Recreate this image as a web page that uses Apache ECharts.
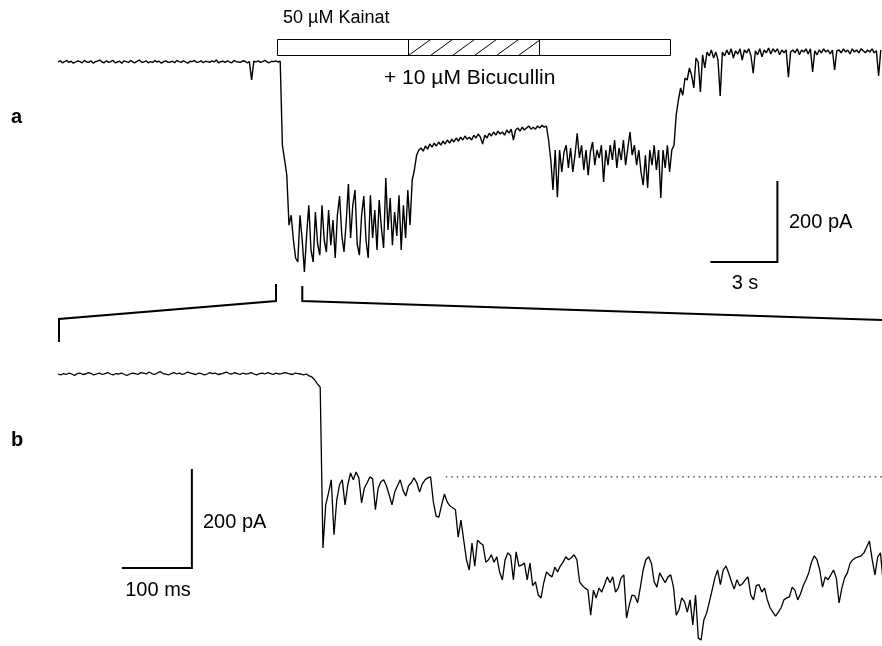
<!DOCTYPE html>
<html>
<head>
<meta charset="utf-8">
<script src="https://cdn.jsdelivr.net/npm/echarts@6/dist/echarts.min.js"></script>
<style>
  html, body { margin: 0; padding: 0; background: #fff; }
  #chart { width: 882px; height: 646px; }
</style>
</head>
<body>
<div id="chart"></div>
<script>
// ---- Panel a: whole-cell current, sampled every 0.1 s (pA) ----
const aDt = 0.1; // s
const aCurrent = [
  0, 3, -2, 1, 4, -1, 2, -3, 0, 3,
  1, -2, 4, 0, -1, 3, -3, 1, 2, 5,
  0, -2, 3, -1, 1, 4, -2, 0, 2, -3,
  3, 1, -1, 4, 0, -2, 2, 5, -1, 0,
  3, -2, 1, -1, 4, 0, 2, -3, 1, 3,
  -1, 0, 2, -2, 4, 1, -1, 3, 0, -3,
  2, 1, 4, -1, 0, 3, -2, 2, 1, -1,
  3, 0, 5, -2, 1, 2, -1, 3, 0, -2,
  4, 1, 0, -1, 3, 2, -2, 1, -45, 2,
  0, 3, -1, 1, 4, 0, -2, 2, 1, 3,
  0, 2, -208, -245, -283, -408, -383, -445, -490, -500,
  -383, -445, -525, -433, -358, -470, -500, -375, -455, -483,
  -358, -445, -475, -370, -458, -395, -490, -383, -335, -433,
  -475, -400, -305, -440, -358, -320, -455, -483, -383, -335,
  -445, -490, -333, -440, -370, -470, -345, -415, -465, -290,
  -420, -340, -458, -375, -435, -333, -470, -358, -440, -320,
  -408, -295, -270, -233, -220, -215, -223, -210, -218, -205,
  -213, -203, -210, -200, -208, -198, -205, -195, -203, -193,
  -200, -190, -198, -188, -195, -185, -193, -188, -195, -183,
  -190, -180, -188, -205, -183, -190, -178, -185, -175, -183,
  -173, -180, -175, -183, -170, -178, -168, -195, -170, -165,
  -173, -163, -170, -165, -160, -168, -163, -168, -160, -165,
  -158, -163, -160, -195, -245, -320, -220, -338, -220, -275,
  -225, -208, -265, -215, -275, -233, -178, -240, -208, -270,
  -220, -283, -225, -200, -258, -220, -240, -208, -300, -220,
  -258, -208, -245, -195, -265, -215, -245, -195, -258, -215,
  -175, -233, -208, -258, -220, -275, -308, -233, -315, -220,
  -258, -208, -270, -220, -340, -220, -265, -208, -275, -220,
  -208, -133, -95, -65, -83, -40, -45, -15, -33, -65,
  10, 0, -75, 18, -15, 25, 15, 30, 10, 25,
  5, -85, 25, 15, 30, 18, 33, 10, 28, 20,
  33, 5, 30, 23, 33, 15, -28, 28, 18, 33,
  13, 30, 23, 35, 20, 33, 25, 33, 18, 30,
  23, 30, -38, 25, 30, 23, 33, 18, 30, 25,
  33, 20, 33, -25, 28, 18, 30, 23, 33, 25,
  30, 20, 30, -20, 28, 30, 23, 33, 25, 30,
  20, 33, 25, 30, 23, 33, 28, 23, 30, 25,
  33, 23, 28, -35, 30
];

// ---- Panel b: onset on an expanded time base, sampled every 4 ms (pA) ----
const bDt = 4; // ms
const bCurrent = [
  0, -2, 1, -1, 2, 0, -3, 1, 2, -1,
  0, 3, 1, -2, 0, 2, -1, 1, 3, 0,
  -2, 1, 0, 2, -1, -3, 0, 2, 1, -1,
  3, 2, 0, 4, 1, -1, 2, 5, 1, 0,
  -2, 1, 3, 0, 2, -1, 1, 4, 2, 0,
  -1, 2, 1, -2, 0, 3, 1, 2, -1, 0,
  2, 4, 1, 0, 3, 1, -1, 2, 0, 1,
  3, 0, -2, 1, 2, 0, 3, 1, -1, 2,
  0, 1, 3, 2, 0, -1, 2, 1, 0, -2,
  0, -4, -6, -12, -20, -27, -355, -267, -243, -216,
  -328, -257, -226, -216, -267, -226, -202, -216, -200, -212,
  -263, -233, -222, -210, -214, -277, -233, -220, -216, -228,
  -247, -267, -241, -228, -216, -237, -249, -228, -222, -212,
  -222, -241, -224, -216, -212, -210, -261, -290, -292, -267,
  -245, -261, -269, -273, -277, -333, -298, -339, -379, -400,
  -345, -392, -339, -345, -349, -384, -379, -369, -384, -373,
  -404, -420, -379, -365, -371, -420, -363, -392, -390, -386,
  -420, -386, -432, -424, -451, -457, -426, -404, -410, -414,
  -394, -404, -392, -384, -373, -379, -375, -369, -379, -424,
  -432, -437, -441, -492, -441, -457, -437, -445, -430, -414,
  -426, -414, -445, -437, -416, -410, -498, -471, -451, -453,
  -467, -435, -400, -379, -373, -386, -424, -435, -406, -416,
  -426, -414, -410, -435, -492, -481, -457, -465, -486, -461,
  -512, -451, -539, -543, -502, -488, -465, -441, -416, -400,
  -430, -400, -392, -406, -424, -439, -420, -432, -428, -420,
  -414, -451, -461, -432, -430, -445, -437, -461, -477, -486,
  -494, -486, -477, -461, -457, -455, -435, -441, -461, -449,
  -432, -420, -406, -384, -371, -379, -400, -435, -414, -420,
  -410, -400, -416, -467, -437, -416, -406, -386, -379, -375,
  -373, -371, -365, -353, -341, -379, -410, -373, -365, -426
];

// Drug application windows on panel a's time base (s)
const kainatWindow = [9.95, 27.8];
const bicucullinWindow = [15.9, 21.85];
const kainatLabel = '50 µM Kainat';
const bicucullinLabel = '+ 10 µM Bicucullin';

// Start of the stretch shown expanded in b (s, panel a time base)
const zoomStart = 9.91;

// Scale bars: [time, current] corner points
const aScaleBar = [[29.7, -500], [32.7, -500], [32.7, -300]];   // 3 s, 200 pA
const bScaleBar = [[94, -396], [194, -396], [194, -196]];       // 100 ms, 200 pA
const aScaleLabels = ['3 s', '200 pA'];
const bScaleLabels = ['100 ms', '200 pA'];

// Level of the early plateau, drawn dotted in b (pA, from ms)
const bPlateau = -210;
const bPlateauFrom = 562;

// ---- layout ----
const aMaxT = 824 / 22;     // 22 px per s
const bMaxT = 824 / 0.69;   // 0.69 px per ms
const bDuration = bMaxT / 1000;

const aData = aCurrent.map((v, i) => [i * aDt, v]);
const bData = bCurrent.map((v, i) => [i * bDt, v]);

const FONT = '"Liberation Sans", Arial, Helvetica, sans-serif';

const chart = echarts.init(document.getElementById('chart'), null, { renderer: 'canvas' });

function txt(text, x, y, align, size, weight) {
  return {
    type: 'text', x: x, y: y, silent: true,
    style: {
      text: text, fill: '#000',
      font: (weight ? weight + ' ' : '') + (size || 20) + 'px ' + FONT,
      align: align, verticalAlign: 'middle'
    }
  };
}

chart.setOption({
  animation: false,
  backgroundColor: '#fff',
  grid: [
    { left: 58, top: 30, width: 824, height: 260 },
    { left: 58, top: 340, width: 824, height: 306 }
  ],
  xAxis: [
    { type: 'value', gridIndex: 0, min: 0, max: aMaxT, show: false },
    { type: 'value', gridIndex: 1, min: 0, max: bMaxT, show: false }
  ],
  yAxis: [
    { type: 'value', gridIndex: 0, min: -570, max: 80, show: false },
    { type: 'value', gridIndex: 1, min: -555.1, max: 69.4, show: false }
  ],
  series: [
    {
      name: 'trace a', type: 'line', xAxisIndex: 0, yAxisIndex: 0,
      data: aData, showSymbol: false, symbol: 'none', silent: true,
      lineStyle: { color: '#000', width: 1.4 }
    },
    {
      name: 'trace b', type: 'line', xAxisIndex: 1, yAxisIndex: 1,
      data: bData, showSymbol: false, symbol: 'none', silent: true,
      lineStyle: { color: '#000', width: 1.3 }
    },
    {
      name: 'plateau', type: 'line', xAxisIndex: 1, yAxisIndex: 1,
      data: [[bPlateauFrom, bPlateau], [bMaxT, bPlateau]],
      showSymbol: false, symbol: 'none', silent: true,
      lineStyle: { color: '#000', width: 1, type: [1.5, 4] }
    },
    {
      name: 'scale a', type: 'line', xAxisIndex: 0, yAxisIndex: 0,
      data: aScaleBar, showSymbol: false, symbol: 'none', silent: true,
      lineStyle: { color: '#000', width: 2, cap: 'square', join: 'miter' }
    },
    {
      name: 'scale b', type: 'line', xAxisIndex: 1, yAxisIndex: 1,
      data: bScaleBar, showSymbol: false, symbol: 'none', silent: true,
      lineStyle: { color: '#000', width: 2, cap: 'square', join: 'miter' }
    },
    {
      // application bar with hatched bicuculline section
      name: 'application', type: 'custom', xAxisIndex: 0, yAxisIndex: 0, silent: true, clip: false,
      data: [[kainatWindow[0], kainatWindow[1], bicucullinWindow[0], bicucullinWindow[1]]],
      renderItem: function (params, api) {
        const top = 39.5, bottom = 55.5;
        const x0 = Math.round(api.coord([api.value(0), 0])[0]) + 0.5;
        const x1 = Math.round(api.coord([api.value(1), 0])[0]) + 0.5;
        const h0 = Math.round(api.coord([api.value(2), 0])[0]) + 0.5;
        const h1 = Math.round(api.coord([api.value(3), 0])[0]) + 0.5;
        const s = { stroke: '#000', lineWidth: 1, fill: null };
        const children = [
          { type: 'rect', shape: { x: x0, y: top, width: x1 - x0, height: bottom - top }, style: { stroke: '#000', lineWidth: 1, fill: '#fff' } },
          { type: 'line', shape: { x1: h0, y1: top, x2: h0, y2: bottom }, style: s },
          { type: 'line', shape: { x1: h1, y1: top, x2: h1, y2: bottom }, style: s }
        ];
        const step = 22, run = 22, h = bottom - top;
        for (let xb = h0; xb < h1 - 1; xb += step) {
          let xt = xb + run, yt = top;
          if (xt > h1) { xt = h1; yt = bottom - (h1 - xb) * h / run; }
          children.push({ type: 'line', shape: { x1: xb, y1: bottom, x2: xt, y2: yt }, style: s });
        }
        return { type: 'group', children: children };
      }
    },
    {
      // brackets linking the expanded stretch in a to panel b
      name: 'zoom link', type: 'custom', xAxisIndex: 0, yAxisIndex: 0, silent: true, clip: false,
      data: [[zoomStart, zoomStart + bDuration]],
      renderItem: function (params, api) {
        const xs = api.coord([api.value(0), 0])[0];
        const xe = api.coord([api.value(1), 0])[0];
        const left = api.coord([0, 0])[0] + 1;
        const right = api.coord([aMaxT, 0])[0];
        const st = { stroke: '#000', lineWidth: 2, fill: null, lineJoin: 'miter' };
        return {
          type: 'group', children: [
            { type: 'polyline', shape: { points: [[xs, 284], [xs, 301], [left, 319], [left, 342]] }, style: st },
            { type: 'polyline', shape: { points: [[xe, 286], [xe, 301], [right, 320]] }, style: st }
          ]
        };
      }
    }
  ],
  graphic: [
    txt('a', 11, 117, 'left', 20, 'bold'),
    txt('b', 11, 440, 'left', 20, 'bold'),
    txt(kainatLabel, 283, 18, 'left', 18),
    txt(bicucullinLabel, 384, 78, 'left', 21),
    txt(aScaleLabels[1], 789, 222, 'left', 20),
    txt(aScaleLabels[0], 745, 283, 'center', 20),
    txt(bScaleLabels[1], 203, 522, 'left', 20),
    txt(bScaleLabels[0], 158, 590, 'center', 20)
  ]
});
</script>
</body>
</html>
